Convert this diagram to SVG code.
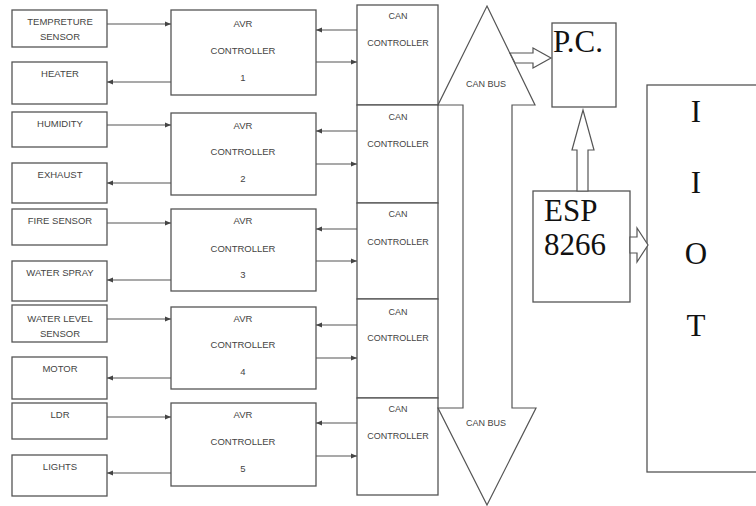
<svg xmlns="http://www.w3.org/2000/svg" width="756" height="506" viewBox="0 0 756 506">
<defs>
<marker id="ah" markerUnits="userSpaceOnUse" markerWidth="6" markerHeight="6" refX="6" refY="3" orient="auto">
<path d="M0,0.5 L6,3 L0,5.5 z" fill="#444"/>
</marker>
<style>
.b{fill:#fff;stroke:#555;stroke-width:1.3}
.s{font-family:"Liberation Sans",Arial,sans-serif;font-size:9.5px;fill:#444;text-anchor:middle}
.sm{font-family:"Liberation Sans",Arial,sans-serif;font-size:9px;fill:#444;text-anchor:middle}
.big{font-family:"Liberation Serif","Times New Roman",serif;font-size:31px;fill:#111}
.c{stroke:#555;stroke-width:1.2;fill:none;marker-end:url(#ah)}
.ba{fill:#fff;stroke:#555;stroke-width:1.2}
</style>
</defs>
<rect width="756" height="506" fill="#fff"/>

<g id="temp"><rect class="b" x="12" y="10" width="95" height="37"/><text class="s" x="60" y="25">TEMPRETURE</text><text class="s" x="60" y="40">SENSOR</text></g>
<g id="heater"><rect class="b" x="12" y="62" width="95" height="42"/><text class="s" x="60" y="77">HEATER</text></g>
<g id="humidity"><rect class="b" x="12" y="112" width="95" height="35"/><text class="s" x="60" y="127">HUMIDITY</text></g>
<g id="exhaust"><rect class="b" x="12" y="163" width="95" height="40"/><text class="s" x="60" y="178">EXHAUST</text></g>
<g id="fire"><rect class="b" x="12" y="209" width="95" height="36"/><text class="s" x="60" y="224">FIRE SENSOR</text></g>
<g id="spray"><rect class="b" x="12" y="261" width="95" height="40"/><text class="s" x="60" y="276">WATER SPRAY</text></g>
<g id="level"><rect class="b" x="12" y="305" width="95" height="37"/><text class="s" x="60" y="322">WATER LEVEL</text><text class="s" x="60" y="337">SENSOR</text></g>
<g id="motor"><rect class="b" x="12" y="357" width="95" height="42"/><text class="s" x="60" y="372">MOTOR</text></g>
<g id="ldr"><rect class="b" x="12" y="403" width="95" height="36"/><text class="s" x="60" y="418">LDR</text></g>
<g id="lights"><rect class="b" x="12" y="455" width="95" height="41"/><text class="s" x="60" y="470">LIGHTS</text></g>

<g id="avr1"><rect class="b" x="171" y="10" width="145" height="85"/><text class="s" x="243" y="27">AVR</text><text class="s" x="243" y="54">CONTROLLER</text><text class="s" x="243" y="81">1</text></g>
<g id="avr2"><rect class="b" x="171" y="113" width="145" height="82"/><text class="s" x="243" y="129">AVR</text><text class="s" x="243" y="155">CONTROLLER</text><text class="s" x="243" y="182">2</text></g>
<g id="avr3"><rect class="b" x="171" y="209" width="145" height="82"/><text class="s" x="243" y="224">AVR</text><text class="s" x="243" y="252">CONTROLLER</text><text class="s" x="243" y="278">3</text></g>
<g id="avr4"><rect class="b" x="171" y="307" width="145" height="82"/><text class="s" x="243" y="322">AVR</text><text class="s" x="243" y="348">CONTROLLER</text><text class="s" x="243" y="375">4</text></g>
<g id="avr5"><rect class="b" x="171" y="403" width="145" height="83"/><text class="s" x="243" y="418">AVR</text><text class="s" x="243" y="445">CONTROLLER</text><text class="s" x="243" y="472">5</text></g>

<g id="can1"><rect class="b" x="357" y="5" width="81" height="100"/><text class="sm" x="398" y="19">CAN</text><text class="sm" x="398" y="46">CONTROLLER</text></g>
<g id="can2"><rect class="b" x="357" y="105" width="81" height="98"/><text class="sm" x="398" y="120">CAN</text><text class="sm" x="398" y="147">CONTROLLER</text></g>
<g id="can3"><rect class="b" x="357" y="203" width="81" height="96"/><text class="sm" x="398" y="217">CAN</text><text class="sm" x="398" y="245">CONTROLLER</text></g>
<g id="can4"><rect class="b" x="357" y="299" width="81" height="99"/><text class="sm" x="398" y="315">CAN</text><text class="sm" x="398" y="341">CONTROLLER</text></g>
<g id="can5"><rect class="b" x="357" y="398" width="81" height="97"/><text class="sm" x="398" y="412">CAN</text><text class="sm" x="398" y="439">CONTROLLER</text></g>

<g id="canbus">
<polygon class="ba" points="487,6 535,105 512,105 512,408 536,408 487,505 438,408 463,408 463,105 438,105"/>
<text class="sm" x="486" y="87">CAN BUS</text>
<text class="sm" x="486" y="426">CAN BUS</text>
</g>

<g id="pc"><rect class="b" x="552" y="23" width="64" height="84"/><text class="big" x="553" y="52">P.C.</text></g>
<g id="esp"><rect class="b" x="533" y="191" width="97" height="111"/><text class="big" x="544" y="221">ESP</text><text class="big" x="544" y="255">8266</text></g>
<g id="iot"><rect class="b" x="647" y="85" width="120" height="387"/>
<text class="big" x="696" y="122" text-anchor="middle">I</text>
<text class="big" x="696" y="193" text-anchor="middle">I</text>
<text class="big" x="696" y="264" text-anchor="middle">O</text>
<text class="big" x="696" y="336" text-anchor="middle">T</text>
</g>

<g id="connectors">
<line class="c" x1="107" y1="24" x2="171" y2="24"/>
<line class="c" x1="107" y1="125" x2="171" y2="125"/>
<line class="c" x1="107" y1="223" x2="171" y2="223"/>
<line class="c" x1="107" y1="319" x2="171" y2="319"/>
<line class="c" x1="107" y1="417" x2="171" y2="417"/>
<line class="c" x1="171" y1="82" x2="107" y2="82"/>
<line class="c" x1="171" y1="183" x2="107" y2="183"/>
<line class="c" x1="171" y1="280" x2="107" y2="280"/>
<line class="c" x1="171" y1="378" x2="107" y2="378"/>
<line class="c" x1="171" y1="473" x2="107" y2="473"/>
<line class="c" x1="357" y1="30" x2="316" y2="30"/>
<line class="c" x1="357" y1="131" x2="316" y2="131"/>
<line class="c" x1="357" y1="229" x2="316" y2="229"/>
<line class="c" x1="357" y1="325" x2="316" y2="325"/>
<line class="c" x1="357" y1="423" x2="316" y2="423"/>
<line class="c" x1="316" y1="62" x2="357" y2="62"/>
<line class="c" x1="316" y1="164" x2="357" y2="164"/>
<line class="c" x1="316" y1="261" x2="357" y2="261"/>
<line class="c" x1="316" y1="358" x2="357" y2="358"/>
<line class="c" x1="316" y1="456" x2="357" y2="456"/>
<polygon class="ba" points="510,53 533,53 533,48 551,58 533,68 533,63 515,63"/>
<polygon class="ba" points="577,191 577,150 572,150 583,110 594,150 588,150 588,191"/>
<polygon class="ba" points="630,237 637,237 637,228 648,245 637,262 637,253 630,253"/>
</g>
</svg>
